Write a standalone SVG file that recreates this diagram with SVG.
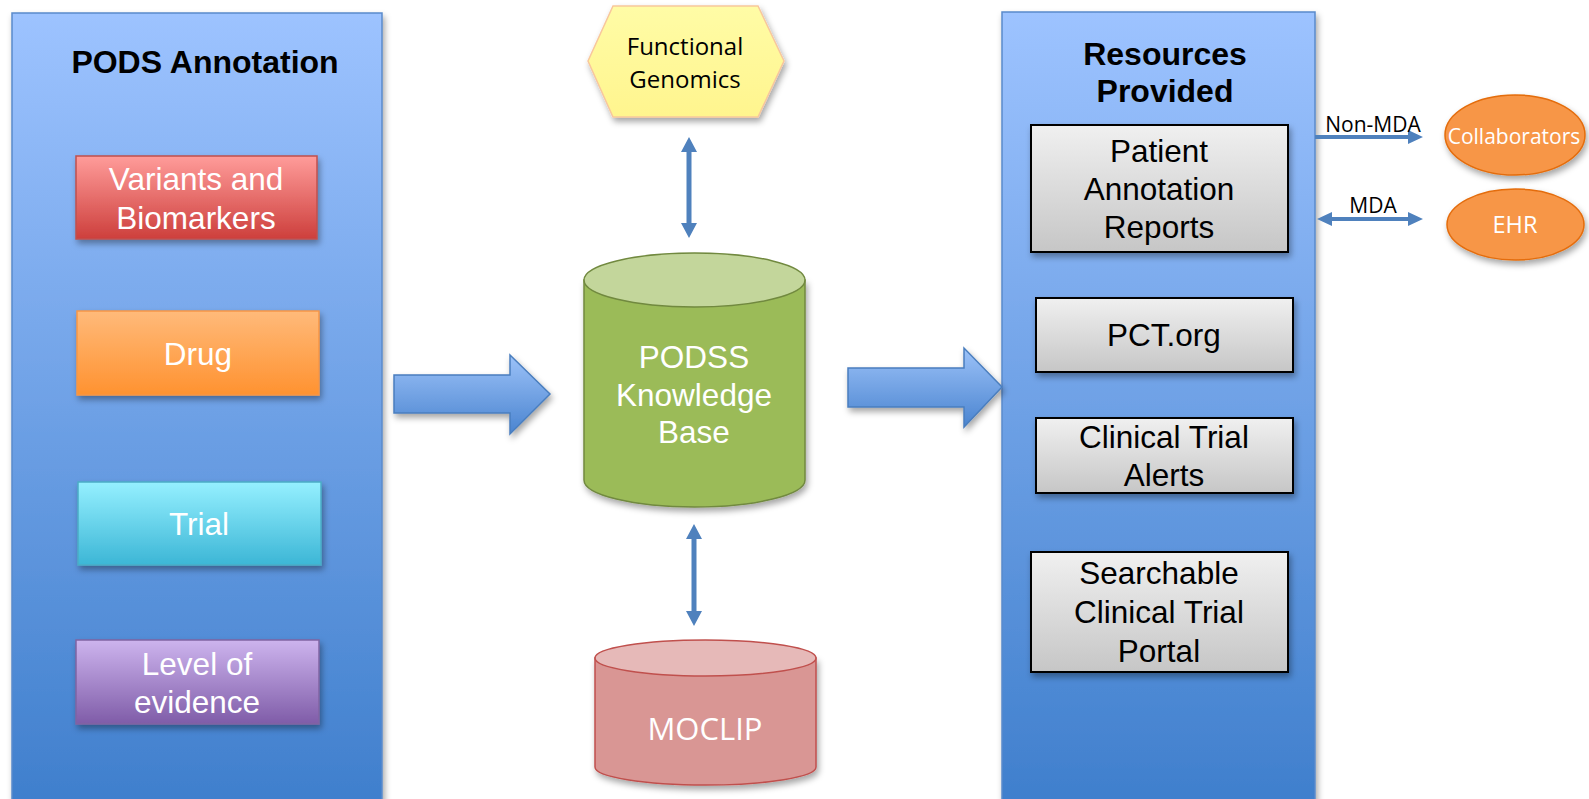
<svg xmlns="http://www.w3.org/2000/svg" width="1589" height="799" viewBox="0 0 1589 799">
<defs>
<linearGradient id="gPanel" x1="0" y1="0" x2="0" y2="1"><stop offset="0" stop-color="#9DC3FF"/><stop offset="1" stop-color="#3E7ECC"/></linearGradient>
<linearGradient id="gRed" x1="0" y1="0" x2="0" y2="1"><stop offset="0" stop-color="#FF9C9A"/><stop offset="1" stop-color="#CD3F3C"/></linearGradient>
<linearGradient id="gOrange" x1="0" y1="0" x2="0" y2="1"><stop offset="0" stop-color="#FFBA7A"/><stop offset="1" stop-color="#FF9230"/></linearGradient>
<linearGradient id="gCyan" x1="0" y1="0" x2="0" y2="1"><stop offset="0" stop-color="#95F0FF"/><stop offset="1" stop-color="#3CB6D6"/></linearGradient>
<linearGradient id="gPurple" x1="0" y1="0" x2="0" y2="1"><stop offset="0" stop-color="#CDB4EE"/><stop offset="1" stop-color="#7F5CA8"/></linearGradient>
<linearGradient id="gGray" x1="0" y1="0" x2="0" y2="1"><stop offset="0" stop-color="#F0F0F0"/><stop offset="1" stop-color="#C6C6C6"/></linearGradient>
<linearGradient id="gArrow" x1="0" y1="0" x2="0" y2="1"><stop offset="0" stop-color="#9CC2F8"/><stop offset="1" stop-color="#4A84D0"/></linearGradient>
<linearGradient id="gHex" x1="0" y1="0" x2="0" y2="1"><stop offset="0" stop-color="#FFFCA6"/><stop offset="1" stop-color="#FFF58E"/></linearGradient>
<filter id="sh" x="-10%" y="-10%" width="125%" height="130%"><feDropShadow dx="2" dy="4" stdDeviation="3" flood-color="#000" flood-opacity="0.35"/></filter>
</defs>
<style>
.lbl{font-family:"Liberation Sans",Arial,sans-serif;font-size:31.5px;text-anchor:middle}
.w{fill:#FFFFFF}
.k{fill:#000000}
.title{font-family:"Liberation Sans",Arial,sans-serif;font-size:32px;font-weight:bold;text-anchor:middle;fill:#000}
.cal{font-family:"Open Sans","Noto Sans",sans-serif;text-anchor:middle}
.gbox{fill:url(#gGray);stroke:#000;stroke-width:2}
.conn{fill:#4F81BD}
</style>

<g id="panel-left">
<rect x="12" y="13" width="370" height="800" fill="url(#gPanel)" stroke="#5A8ACB" stroke-width="1.5" filter="url(#sh)"/>
<text class="title" x="205" y="73">PODS Annotation</text>
</g>
<g id="node-variants">
<rect x="76" y="156" width="241" height="83" fill="url(#gRed)" stroke="#C0504D" stroke-width="1.5" filter="url(#sh)"/>
<text class="lbl w" x="196" y="190">Variants and</text>
<text class="lbl w" x="196" y="229">Biomarkers</text>
</g>
<g id="node-drug">
<rect x="77" y="311" width="242" height="84" fill="url(#gOrange)" stroke="#F79646" stroke-width="1.5" filter="url(#sh)"/>
<text class="lbl w" x="198" y="365">Drug</text>
</g>
<g id="node-trial">
<rect x="78" y="482" width="243" height="83" fill="url(#gCyan)" stroke="#4BACC6" stroke-width="1.5" filter="url(#sh)"/>
<text class="lbl w" x="199" y="535">Trial</text>
</g>
<g id="node-level">
<rect x="76" y="640" width="243" height="84" fill="url(#gPurple)" stroke="#8064A2" stroke-width="1.5" filter="url(#sh)"/>
<text class="lbl w" x="197" y="675">Level of</text>
<text class="lbl w" x="197" y="713">evidence</text>
</g>

<g id="node-functional-genomics">
<polygon points="588,61 613,6 758,6 784,61 758,117 613,117" fill="url(#gHex)" stroke="#F8C79C" stroke-width="1.5" filter="url(#sh)"/>
<text class="cal k" x="685" y="55" font-size="24">Functional</text>
<text class="cal k" x="685" y="88" font-size="24">Genomics</text>
</g>

<g id="node-podss">
<path d="M584,280 L584,480 A110.5,27 0 0 0 805,480 L805,280 Z" fill="#9BBB59" stroke="#71893F" stroke-width="1.5" filter="url(#sh)"/>
<ellipse cx="694.5" cy="280" rx="110.5" ry="27" fill="#C3D69B" stroke="#71893F" stroke-width="1.5"/>
<text class="lbl w" x="694" y="368">PODSS</text>
<text class="lbl w" x="694" y="406">Knowledge</text>
<text class="lbl w" x="694" y="443">Base</text>
</g>

<g id="node-moclip">
<path d="M595,658 L595,767 A110.5,18 0 0 0 816,767 L816,658 Z" fill="#D99694" stroke="#C0504D" stroke-width="1.5" filter="url(#sh)"/>
<ellipse cx="705.5" cy="658" rx="110.5" ry="18" fill="#E6B9B8" stroke="#C0504D" stroke-width="1.5"/>
<text class="cal w" x="705" y="740" font-size="31">MOCLIP</text>
</g>

<g id="panel-right">
<rect x="1002" y="12" width="313" height="800" fill="url(#gPanel)" stroke="#5A8ACB" stroke-width="1.5" filter="url(#sh)"/>
<text class="title" x="1165" y="65">Resources</text>
<text class="title" x="1165" y="102">Provided</text>
</g>
<g id="node-patient-reports">
<rect x="1031" y="125" width="257" height="127" class="gbox" filter="url(#sh)"/>
<text class="lbl k" x="1159" y="162">Patient</text>
<text class="lbl k" x="1159" y="200">Annotation</text>
<text class="lbl k" x="1159" y="238">Reports</text>
</g>
<g id="node-pct">
<rect x="1036" y="298" width="257" height="74" class="gbox" filter="url(#sh)"/>
<text class="lbl k" x="1164" y="346">PCT.org</text>
</g>
<g id="node-alerts">
<rect x="1036" y="418" width="257" height="75" class="gbox" filter="url(#sh)"/>
<text class="lbl k" x="1164" y="448">Clinical Trial</text>
<text class="lbl k" x="1164" y="486">Alerts</text>
</g>
<g id="node-portal">
<rect x="1031" y="552" width="257" height="120" class="gbox" filter="url(#sh)"/>
<text class="lbl k" x="1159" y="584">Searchable</text>
<text class="lbl k" x="1159" y="623">Clinical Trial</text>
<text class="lbl k" x="1159" y="662">Portal</text>
</g>

<g id="node-collaborators">
<ellipse cx="1515" cy="135" rx="70" ry="40" fill="#F79646" stroke="#E46C0A" stroke-width="1.5" filter="url(#sh)"/>
<text class="cal w" x="1514" y="144" font-size="21">Collaborators</text>
</g>
<g id="node-ehr">
<ellipse cx="1515.5" cy="224.5" rx="68.5" ry="35.5" fill="#F79646" stroke="#E46C0A" stroke-width="1.5" filter="url(#sh)"/>
<text class="cal w" x="1515" y="233" font-size="23.5">EHR</text>
</g>

<g id="connectors">
<polygon points="394,375 510,375 510,355 550,394 510,434 510,413 394,413" fill="url(#gArrow)" stroke="#4A7EBE" stroke-width="1.5" filter="url(#sh)"/>
<polygon points="848,368 964,368 964,348 1002,387 964,427 964,407 848,407" fill="url(#gArrow)" stroke="#4A7EBE" stroke-width="1.5" filter="url(#sh)"/>
<polygon class="conn" points="689,137 697,152 691.5,152 691.5,223 697,223 689,238 681,223 686.5,223 686.5,152 681,152"/>
<polygon class="conn" points="694,524 702,539 696.5,539 696.5,611 702,611 694,626 686,611 691.5,611 691.5,539 686,539"/>
<polygon class="conn" points="1315,135 1408,135 1408,130 1423,137 1408,144 1408,139 1315,139"/>
<polygon class="conn" points="1317,219 1332,212 1332,217 1408,217 1408,212 1423,219 1408,226 1408,221 1332,221 1332,226"/>
<text class="cal k" x="1373" y="132" font-size="21">Non-MDA</text>
<text class="cal k" x="1373" y="213" font-size="21">MDA</text>
</g>
</svg>
